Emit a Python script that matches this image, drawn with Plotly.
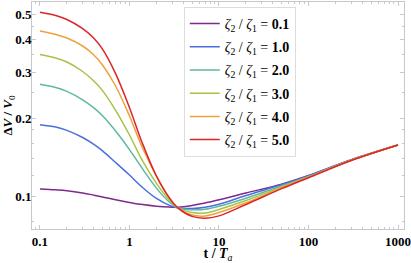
import plotly.graph_objects as go

# ---- data ----
t_vals = [0.1, 0.15, 0.2, 0.3, 0.4, 0.5, 0.7, 1, 1.4, 2, 2.8, 3.5, 5, 7, 10, 20, 50, 100, 300, 1000]

ratio_labels = ["0.1", "1.0", "2.0", "3.0", "4.0", "5.0"]

v_r01 = [0.1067, 0.1059, 0.1051, 0.1030, 0.1010, 0.0994, 0.0969, 0.0947, 0.0929, 0.0916, 0.0909, 0.0908, 0.0922, 0.0942, 0.0969, 0.1030, 0.1113, 0.1202, 0.1383, 0.1575]
v_r10 = [0.1885, 0.1846, 0.1793, 0.1683, 0.1583, 0.1495, 0.1349, 0.1207, 0.1081, 0.0981, 0.0923, 0.0902, 0.0897, 0.0907, 0.0932, 0.1007, 0.1107, 0.1198, 0.1380, 0.1575]
v_r20 = [0.2696, 0.2621, 0.2532, 0.2350, 0.2188, 0.2040, 0.1783, 0.1512, 0.1275, 0.1075, 0.0949, 0.0902, 0.0888, 0.0891, 0.0915, 0.0983, 0.1096, 0.1193, 0.1378, 0.1575]
v_r30 = [0.3511, 0.3403, 0.3285, 0.3020, 0.2776, 0.2550, 0.2142, 0.1721, 0.1367, 0.1121, 0.0966, 0.0902, 0.0866, 0.0863, 0.0890, 0.0963, 0.1086, 0.1188, 0.1377, 0.1575]
v_r40 = [0.4323, 0.4191, 0.4063, 0.3785, 0.3496, 0.3199, 0.2656, 0.2036, 0.1534, 0.1197, 0.0985, 0.0899, 0.0847, 0.0840, 0.0866, 0.0944, 0.1077, 0.1183, 0.1376, 0.1575]
v_r50 = [0.5101, 0.4955, 0.4786, 0.4412, 0.4056, 0.3683, 0.2962, 0.2192, 0.1593, 0.1196, 0.0984, 0.0901, 0.0837, 0.0824, 0.0841, 0.0930, 0.1070, 0.1179, 0.1373, 0.1575]
series_values = [v_r01, v_r10, v_r20, v_r30, v_r40, v_r50]

colors = ["#7f2a8c", "#4a6fe0", "#5fb8a2", "#a9c245", "#eda23e", "#dc2626"]

x_ticks = [0.1, 1, 10, 100, 1000]
x_ticktext = ["0.1", "1", "10", "100", "1000"]
y_ticks = [0.1, 0.2, 0.3, 0.4, 0.5]
y_ticktext = ["0.1", "0.2", "0.3", "0.4", "0.5"]
x_minor = [0.09] + [k / 10 for k in range(2, 10)] + list(range(2, 10)) + list(range(20, 100, 10)) + list(range(200, 1000, 100))
y_minor = [0.08, 0.12, 0.14, 0.16, 0.18, 0.25, 0.35, 0.45]

FONT = "Liberation Serif"
AX = "#c8c8c8"

fig = go.Figure()
for i, (lab, vals, col) in enumerate(zip(ratio_labels, series_values, colors)):
    fig.add_trace(go.Scatter(
        x=t_vals, y=vals, mode="lines",
        line=dict(color=col, width=1.5, shape="spline", smoothing=1.0),
        name="<i>ζ</i><sub>2</sub> / <i>ζ</i><sub>1</sub> = <b>" + lab + "</b>",
        legendgroup="g" + str(i),
    ))

axis_common = dict(
    type="log", showgrid=False, zeroline=False, automargin=False,
    showline=True, linecolor=AX, linewidth=1, mirror="ticks",
    ticks="inside", ticklen=4, tickcolor=AX, tickwidth=1,
    tickfont=dict(family=FONT, size=13, color="black", weight="bold"),
)

fig.update_xaxes(
    **axis_common,
    range=[-1.089, 3.067],
    tickmode="array", tickvals=x_ticks, ticktext=x_ticktext,
    minor=dict(tickmode="array", tickvals=x_minor, ticks="inside", ticklen=2, tickcolor=AX),
    title=dict(text="<b>t / <i>T</i></b><sub><i>a</i></sub>", font=dict(family=FONT, size=14, color="black"), standoff=7),
)
fig.update_yaxes(
    **axis_common,
    range=[-1.1258, -0.2527],
    tickmode="array", tickvals=y_ticks, ticktext=y_ticktext,
    ticklabelstandoff=-3,
    minor=dict(tickmode="array", tickvals=y_minor, ticks="inside", ticklen=2, tickcolor=AX),
    title=dict(text="<b>Δ<i>V</i> / <i>V</i></b><sub>0</sub>", font=dict(family=FONT, size=13, color="black"), standoff=2),
)

fig.update_layout(
    width=411, height=263,
    margin=dict(l=32, r=7, t=2, b=34, autoexpand=False),
    paper_bgcolor="white", plot_bgcolor="white",
    showlegend=True,
    legend=dict(
        x=0.408, y=0.978, xanchor="left", yanchor="top",
        bgcolor="white", bordercolor="#dddddd", borderwidth=1,
        font=dict(family=FONT, size=14, color="black"),
        tracegroupgap=2, itemwidth=30,
    ),
)

fig.write_html(
    "out.html",
    config={"displayModeBar": False},
    post_script="document.body.style.margin='0';document.body.style.overflow='hidden';",
)
